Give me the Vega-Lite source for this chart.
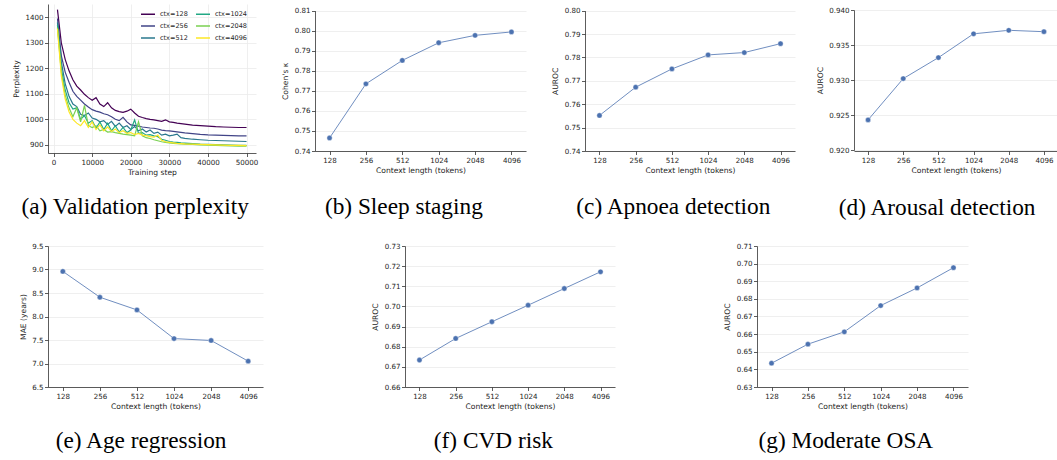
{
"$schema": "https://vega.github.io/schema/vega-lite/v6.json",
"background": "white",
"padding": {"left": 12, "top": 4, "right": 0, "bottom": 0},
"spacing": 23,
"config": {
  "view": {"stroke": null},
  "axis": {"labelFont": "DejaVu Sans", "labelFontSize": 7.1, "labelColor": "#262626", "titleFont": "DejaVu Sans", "titleFontSize": 7.6, "titleFontWeight": "normal", "titleColor": "#262626", "domainColor": "#333333", "domainWidth": 0.8, "tickColor": "#333333", "tickWidth": 0.8, "tickSize": 3.5, "labelPadding": 1.5, "gridColor": "#ebebeb", "gridWidth": 0.8},
  "axisY": {"titlePadding": 4.5},
  "axisX": {"titlePadding": 3.5},
  "title": {"font": "Liberation Serif", "fontSize": 23.3, "fontWeight": "normal", "color": "#000000", "orient": "bottom", "anchor": "middle", "frame": "bounds", "baseline": "top"}
},
"vconcat": [
 {"hconcat": [
  {"width": 208, "height": 149,
   "title": {"text": "(a) Validation perplexity", "offset": 20},
   "data": {"values": [
{"s":1000,"c":"ctx=128","p":1430},{"s":2000,"c":"ctx=128","p":1300},{"s":3000,"c":"ctx=128","p":1235},{"s":4000,"c":"ctx=128","p":1190},{"s":5000,"c":"ctx=128","p":1155},{"s":6000,"c":"ctx=128","p":1130},{"s":7000,"c":"ctx=128","p":1115},{"s":8000,"c":"ctx=128","p":1098},{"s":9000,"c":"ctx=128","p":1085},{"s":10000,"c":"ctx=128","p":1075},{"s":11000,"c":"ctx=128","p":1085},{"s":12000,"c":"ctx=128","p":1060},{"s":13000,"c":"ctx=128","p":1050},{"s":14000,"c":"ctx=128","p":1065},{"s":15000,"c":"ctx=128","p":1045},{"s":16000,"c":"ctx=128","p":1035},{"s":17000,"c":"ctx=128","p":1030},{"s":18000,"c":"ctx=128","p":1027},{"s":19000,"c":"ctx=128","p":1032},{"s":20000,"c":"ctx=128","p":1040},{"s":21000,"c":"ctx=128","p":1025},{"s":22000,"c":"ctx=128","p":1012},{"s":23000,"c":"ctx=128","p":1007},{"s":24000,"c":"ctx=128","p":1003},{"s":25000,"c":"ctx=128","p":1000},{"s":26000,"c":"ctx=128","p":998},{"s":27000,"c":"ctx=128","p":995},{"s":28000,"c":"ctx=128","p":992},{"s":29000,"c":"ctx=128","p":998},{"s":30000,"c":"ctx=128","p":990},{"s":31000,"c":"ctx=128","p":988},{"s":32000,"c":"ctx=128","p":985},{"s":33000,"c":"ctx=128","p":983},{"s":34000,"c":"ctx=128","p":981},{"s":36000,"c":"ctx=128","p":977},{"s":38000,"c":"ctx=128","p":975},{"s":40000,"c":"ctx=128","p":973},{"s":42000,"c":"ctx=128","p":971},{"s":44000,"c":"ctx=128","p":970},{"s":46000,"c":"ctx=128","p":969},{"s":48000,"c":"ctx=128","p":968},{"s":50000,"c":"ctx=128","p":968},
{"s":1000,"c":"ctx=256","p":1395},{"s":2000,"c":"ctx=256","p":1250},{"s":3000,"c":"ctx=256","p":1185},{"s":4000,"c":"ctx=256","p":1145},{"s":5000,"c":"ctx=256","p":1110},{"s":6000,"c":"ctx=256","p":1090},{"s":7000,"c":"ctx=256","p":1075},{"s":8000,"c":"ctx=256","p":1060},{"s":9000,"c":"ctx=256","p":1048},{"s":10000,"c":"ctx=256","p":1038},{"s":11000,"c":"ctx=256","p":1032},{"s":12000,"c":"ctx=256","p":1028},{"s":13000,"c":"ctx=256","p":1022},{"s":14000,"c":"ctx=256","p":1018},{"s":15000,"c":"ctx=256","p":1010},{"s":16000,"c":"ctx=256","p":1000},{"s":17000,"c":"ctx=256","p":995},{"s":18000,"c":"ctx=256","p":1008},{"s":19000,"c":"ctx=256","p":990},{"s":20000,"c":"ctx=256","p":978},{"s":21000,"c":"ctx=256","p":976},{"s":22000,"c":"ctx=256","p":973},{"s":23000,"c":"ctx=256","p":970},{"s":24000,"c":"ctx=256","p":968},{"s":25000,"c":"ctx=256","p":966},{"s":26000,"c":"ctx=256","p":965},{"s":27000,"c":"ctx=256","p":962},{"s":28000,"c":"ctx=256","p":958},{"s":29000,"c":"ctx=256","p":956},{"s":30000,"c":"ctx=256","p":955},{"s":31000,"c":"ctx=256","p":953},{"s":32000,"c":"ctx=256","p":951},{"s":33000,"c":"ctx=256","p":949},{"s":34000,"c":"ctx=256","p":947},{"s":36000,"c":"ctx=256","p":944},{"s":38000,"c":"ctx=256","p":941},{"s":40000,"c":"ctx=256","p":939},{"s":42000,"c":"ctx=256","p":938},{"s":44000,"c":"ctx=256","p":937},{"s":46000,"c":"ctx=256","p":936},{"s":48000,"c":"ctx=256","p":935},{"s":50000,"c":"ctx=256","p":935},
{"s":1000,"c":"ctx=512","p":1380},{"s":2000,"c":"ctx=512","p":1225},{"s":3000,"c":"ctx=512","p":1140},{"s":4000,"c":"ctx=512","p":1090},{"s":5000,"c":"ctx=512","p":1060},{"s":6000,"c":"ctx=512","p":1050},{"s":7000,"c":"ctx=512","p":1020},{"s":8000,"c":"ctx=512","p":1015},{"s":9000,"c":"ctx=512","p":1025},{"s":10000,"c":"ctx=512","p":1005},{"s":11000,"c":"ctx=512","p":1000},{"s":12000,"c":"ctx=512","p":990},{"s":13000,"c":"ctx=512","p":995},{"s":14000,"c":"ctx=512","p":980},{"s":15000,"c":"ctx=512","p":992},{"s":16000,"c":"ctx=512","p":972},{"s":17000,"c":"ctx=512","p":985},{"s":18000,"c":"ctx=512","p":968},{"s":19000,"c":"ctx=512","p":975},{"s":20000,"c":"ctx=512","p":960},{"s":21000,"c":"ctx=512","p":972},{"s":22000,"c":"ctx=512","p":955},{"s":23000,"c":"ctx=512","p":962},{"s":24000,"c":"ctx=512","p":950},{"s":25000,"c":"ctx=512","p":958},{"s":26000,"c":"ctx=512","p":945},{"s":27000,"c":"ctx=512","p":950},{"s":28000,"c":"ctx=512","p":938},{"s":29000,"c":"ctx=512","p":942},{"s":30000,"c":"ctx=512","p":935},{"s":31000,"c":"ctx=512","p":938},{"s":32000,"c":"ctx=512","p":942},{"s":33000,"c":"ctx=512","p":928},{"s":34000,"c":"ctx=512","p":925},{"s":36000,"c":"ctx=512","p":922},{"s":38000,"c":"ctx=512","p":920},{"s":40000,"c":"ctx=512","p":918},{"s":42000,"c":"ctx=512","p":917},{"s":44000,"c":"ctx=512","p":916},{"s":46000,"c":"ctx=512","p":915},{"s":48000,"c":"ctx=512","p":914},{"s":50000,"c":"ctx=512","p":913},
{"s":1000,"c":"ctx=1024","p":1370},{"s":2000,"c":"ctx=1024","p":1200},{"s":3000,"c":"ctx=1024","p":1115},{"s":4000,"c":"ctx=1024","p":1065},{"s":5000,"c":"ctx=1024","p":1040},{"s":6000,"c":"ctx=1024","p":1045},{"s":7000,"c":"ctx=1024","p":1000},{"s":8000,"c":"ctx=1024","p":1015},{"s":9000,"c":"ctx=1024","p":985},{"s":10000,"c":"ctx=1024","p":995},{"s":11000,"c":"ctx=1024","p":965},{"s":12000,"c":"ctx=1024","p":990},{"s":13000,"c":"ctx=1024","p":960},{"s":14000,"c":"ctx=1024","p":985},{"s":15000,"c":"ctx=1024","p":955},{"s":16000,"c":"ctx=1024","p":975},{"s":17000,"c":"ctx=1024","p":950},{"s":18000,"c":"ctx=1024","p":968},{"s":19000,"c":"ctx=1024","p":948},{"s":20000,"c":"ctx=1024","p":958},{"s":21000,"c":"ctx=1024","p":998},{"s":22000,"c":"ctx=1024","p":945},{"s":23000,"c":"ctx=1024","p":948},{"s":24000,"c":"ctx=1024","p":938},{"s":25000,"c":"ctx=1024","p":940},{"s":26000,"c":"ctx=1024","p":935},{"s":27000,"c":"ctx=1024","p":932},{"s":28000,"c":"ctx=1024","p":922},{"s":29000,"c":"ctx=1024","p":918},{"s":30000,"c":"ctx=1024","p":913},{"s":31000,"c":"ctx=1024","p":911},{"s":32000,"c":"ctx=1024","p":910},{"s":33000,"c":"ctx=1024","p":908},{"s":34000,"c":"ctx=1024","p":907},{"s":36000,"c":"ctx=1024","p":905},{"s":38000,"c":"ctx=1024","p":903},{"s":40000,"c":"ctx=1024","p":902},{"s":42000,"c":"ctx=1024","p":901},{"s":44000,"c":"ctx=1024","p":900},{"s":46000,"c":"ctx=1024","p":899},{"s":48000,"c":"ctx=1024","p":898},{"s":50000,"c":"ctx=1024","p":898},
{"s":1000,"c":"ctx=2048","p":1360},{"s":2000,"c":"ctx=2048","p":1185},{"s":3000,"c":"ctx=2048","p":1095},{"s":4000,"c":"ctx=2048","p":1045},{"s":5000,"c":"ctx=2048","p":1010},{"s":6000,"c":"ctx=2048","p":1045},{"s":7000,"c":"ctx=2048","p":990},{"s":8000,"c":"ctx=2048","p":1055},{"s":9000,"c":"ctx=2048","p":975},{"s":10000,"c":"ctx=2048","p":968},{"s":11000,"c":"ctx=2048","p":975},{"s":12000,"c":"ctx=2048","p":955},{"s":13000,"c":"ctx=2048","p":960},{"s":14000,"c":"ctx=2048","p":950},{"s":15000,"c":"ctx=2048","p":952},{"s":16000,"c":"ctx=2048","p":948},{"s":17000,"c":"ctx=2048","p":945},{"s":18000,"c":"ctx=2048","p":942},{"s":19000,"c":"ctx=2048","p":940},{"s":20000,"c":"ctx=2048","p":938},{"s":21000,"c":"ctx=2048","p":935},{"s":22000,"c":"ctx=2048","p":990},{"s":23000,"c":"ctx=2048","p":935},{"s":24000,"c":"ctx=2048","p":928},{"s":25000,"c":"ctx=2048","p":925},{"s":26000,"c":"ctx=2048","p":920},{"s":27000,"c":"ctx=2048","p":916},{"s":28000,"c":"ctx=2048","p":912},{"s":29000,"c":"ctx=2048","p":910},{"s":30000,"c":"ctx=2048","p":908},{"s":31000,"c":"ctx=2048","p":906},{"s":32000,"c":"ctx=2048","p":905},{"s":33000,"c":"ctx=2048","p":904},{"s":34000,"c":"ctx=2048","p":903},{"s":36000,"c":"ctx=2048","p":902},{"s":38000,"c":"ctx=2048","p":900},{"s":40000,"c":"ctx=2048","p":899},{"s":42000,"c":"ctx=2048","p":898},{"s":44000,"c":"ctx=2048","p":897},{"s":46000,"c":"ctx=2048","p":896},{"s":48000,"c":"ctx=2048","p":895},{"s":50000,"c":"ctx=2048","p":895},
{"s":1000,"c":"ctx=4096","p":1355},{"s":2000,"c":"ctx=4096","p":1170},{"s":3000,"c":"ctx=4096","p":1080},{"s":4000,"c":"ctx=4096","p":1030},{"s":5000,"c":"ctx=4096","p":1000},{"s":6000,"c":"ctx=4096","p":985},{"s":7000,"c":"ctx=4096","p":975},{"s":8000,"c":"ctx=4096","p":995},{"s":9000,"c":"ctx=4096","p":968},{"s":10000,"c":"ctx=4096","p":990},{"s":11000,"c":"ctx=4096","p":960},{"s":12000,"c":"ctx=4096","p":978},{"s":13000,"c":"ctx=4096","p":955},{"s":14000,"c":"ctx=4096","p":970},{"s":15000,"c":"ctx=4096","p":952},{"s":16000,"c":"ctx=4096","p":962},{"s":17000,"c":"ctx=4096","p":948},{"s":18000,"c":"ctx=4096","p":955},{"s":19000,"c":"ctx=4096","p":945},{"s":20000,"c":"ctx=4096","p":948},{"s":21000,"c":"ctx=4096","p":940},{"s":22000,"c":"ctx=4096","p":945},{"s":23000,"c":"ctx=4096","p":938},{"s":24000,"c":"ctx=4096","p":936},{"s":25000,"c":"ctx=4096","p":932},{"s":26000,"c":"ctx=4096","p":930},{"s":27000,"c":"ctx=4096","p":938},{"s":28000,"c":"ctx=4096","p":918},{"s":29000,"c":"ctx=4096","p":912},{"s":30000,"c":"ctx=4096","p":910},{"s":31000,"c":"ctx=4096","p":908},{"s":32000,"c":"ctx=4096","p":906},{"s":33000,"c":"ctx=4096","p":905},{"s":34000,"c":"ctx=4096","p":904},{"s":36000,"c":"ctx=4096","p":903},{"s":38000,"c":"ctx=4096","p":902},{"s":40000,"c":"ctx=4096","p":901},{"s":42000,"c":"ctx=4096","p":900},{"s":44000,"c":"ctx=4096","p":899},{"s":46000,"c":"ctx=4096","p":898},{"s":48000,"c":"ctx=4096","p":898},{"s":50000,"c":"ctx=4096","p":897}
   ]},
   "mark": {"type": "line", "strokeWidth": 1.2},
   "encoding": {
     "x": {"field": "s", "type": "quantitative", "scale": {"domain": [-1450, 52450], "nice": false, "zero": false}, "axis": {"title": "Training step", "values": [0,10000,20000,30000,40000,50000], "format": "d", "grid": true}},
     "y": {"field": "p", "type": "quantitative", "scale": {"domain": [868, 1452], "nice": false, "zero": false}, "axis": {"title": "Perplexity", "values": [900,1000,1100,1200,1300,1400], "format": "d", "grid": true}},
     "color": {"field": "c", "type": "nominal",
       "scale": {"domain": ["ctx=128","ctx=256","ctx=512","ctx=1024","ctx=2048","ctx=4096"], "range": ["#440154","#414487","#2a788e","#22a884","#7ad151","#fde725"]},
       "legend": {"title": null, "orient": "none", "legendX": 92, "legendY": 2, "columns": 2, "columnPadding": 5, "rowPadding": -2.5, "labelFont": "DejaVu Sans", "labelFontSize": 6.5, "labelColor": "#262626", "symbolType": "stroke", "symbolSize": 196, "symbolStrokeWidth": 1.5, "labelOffset": 4}}
   }
  },
  {"width": 211, "height": 147,
   "title": {"text": "(b) Sleep staging", "offset": 21.5},
   "data": {"values": [{"ctx":"128","v":0.7465},{"ctx":"256","v":0.7735},{"ctx":"512","v":0.7852},{"ctx":"1024","v":0.7940},{"ctx":"2048","v":0.7977},{"ctx":"4096","v":0.7994}]},
   "encoding": {
     "x": {"field": "ctx", "type": "ordinal", "sort": ["128","256","512","1024","2048","4096"], "scale": {"type": "point", "padding": 0.4}, "axis": {"title": "Context length (tokens)", "labelAngle": 0, "grid": false}},
     "y": {"field": "v", "type": "quantitative", "scale": {"domain": [0.74, 0.81], "nice": false, "zero": false, "range": [147, 6.7]}, "axis": {"title": "Cohen's κ", "values": [0.74,0.75,0.76,0.77,0.78,0.79,0.80,0.81], "format": ".2f", "grid": true}}
   },
   "layer": [
     {"mark": {"type": "line", "color": "#4C72B0", "strokeWidth": 1, "opacity": 0.8}},
     {"mark": {"type": "circle", "color": "#4C72B0", "size": 28, "opacity": 1, "stroke": "white", "strokeWidth": 0.4}}
   ]
  },
  {"width": 210, "height": 147,
   "title": {"text": "(c) Apnoea detection", "offset": 21.5},
   "data": {"values": [{"ctx":"128","v":0.7552},{"ctx":"256","v":0.7673},{"ctx":"512","v":0.7751},{"ctx":"1024","v":0.7811},{"ctx":"2048","v":0.7821},{"ctx":"4096","v":0.7859}]},
   "encoding": {
     "x": {"field": "ctx", "type": "ordinal", "sort": ["128","256","512","1024","2048","4096"], "scale": {"type": "point", "padding": 0.4}, "axis": {"title": "Context length (tokens)", "labelAngle": 0, "grid": false}},
     "y": {"field": "v", "type": "quantitative", "scale": {"domain": [0.74, 0.80], "nice": false, "zero": false, "range": [147, 6.7]}, "axis": {"title": "AUROC", "values": [0.74,0.75,0.76,0.77,0.78,0.79,0.80], "format": ".2f", "grid": true}}
   },
   "layer": [
     {"mark": {"type": "line", "color": "#4C72B0", "strokeWidth": 1, "opacity": 0.8}},
     {"mark": {"type": "circle", "color": "#4C72B0", "size": 28, "opacity": 1, "stroke": "white", "strokeWidth": 0.4}}
   ]
  },
  {"width": 204, "height": 147,
   "title": {"text": "(d) Arousal detection", "offset": 22.5},
   "data": {"values": [{"ctx":"128","v":0.9243},{"ctx":"256","v":0.9302},{"ctx":"512","v":0.9332},{"ctx":"1024","v":0.9366},{"ctx":"2048","v":0.9371},{"ctx":"4096","v":0.9369}]},
   "encoding": {
     "x": {"field": "ctx", "type": "ordinal", "sort": ["128","256","512","1024","2048","4096"], "scale": {"type": "point", "padding": 0.4}, "axis": {"title": "Context length (tokens)", "labelAngle": 0, "grid": false}},
     "y": {"field": "v", "type": "quantitative", "scale": {"domain": [0.92, 0.94], "nice": false, "zero": false, "range": [146, 6]}, "axis": {"title": "AUROC", "values": [0.92,0.925,0.93,0.935,0.94], "format": ".3f", "grid": true}}
   },
   "layer": [
     {"mark": {"type": "line", "color": "#4C72B0", "strokeWidth": 1, "opacity": 0.8}},
     {"mark": {"type": "circle", "color": "#4C72B0", "size": 28, "opacity": 1, "stroke": "white", "strokeWidth": 0.4}}
   ]
  }
 ], "spacing": 59, "bounds": "flush"},
 {"hconcat": [
  {"width": 215, "height": 141,
   "title": {"text": "(e) Age regression", "offset": 20},
   "data": {"values": [{"ctx":"128","v":8.96},{"ctx":"256","v":8.41},{"ctx":"512","v":8.14},{"ctx":"1024","v":7.53},{"ctx":"2048","v":7.49},{"ctx":"4096","v":7.05}]},
   "encoding": {
     "x": {"field": "ctx", "type": "ordinal", "sort": ["128","256","512","1024","2048","4096"], "scale": {"type": "point", "padding": 0.4}, "axis": {"title": "Context length (tokens)", "labelAngle": 0, "grid": false}},
     "y": {"field": "v", "type": "quantitative", "scale": {"domain": [6.5, 9.5], "nice": false, "zero": false}, "axis": {"title": "MAE (years)", "values": [6.5,7.0,7.5,8.0,8.5,9.0,9.5], "format": ".1f", "grid": true}}
   },
   "layer": [
     {"mark": {"type": "line", "color": "#4C72B0", "strokeWidth": 1, "opacity": 0.8}},
     {"mark": {"type": "circle", "color": "#4C72B0", "size": 28, "opacity": 1, "stroke": "white", "strokeWidth": 0.4}}
   ]
  },
  {"width": 210, "height": 141,
   "title": {"text": "(f) CVD risk", "offset": 20},
   "data": {"values": [{"ctx":"128","v":0.6734},{"ctx":"256","v":0.6841},{"ctx":"512","v":0.6924},{"ctx":"1024","v":0.7006},{"ctx":"2048","v":0.7089},{"ctx":"4096","v":0.7172}]},
   "encoding": {
     "x": {"field": "ctx", "type": "ordinal", "sort": ["128","256","512","1024","2048","4096"], "scale": {"type": "point", "padding": 0.4}, "axis": {"title": "Context length (tokens)", "labelAngle": 0, "grid": false}},
     "y": {"field": "v", "type": "quantitative", "scale": {"domain": [0.66, 0.73], "nice": false, "zero": false}, "axis": {"title": "AUROC", "values": [0.66,0.67,0.68,0.69,0.70,0.71,0.72,0.73], "format": ".2f", "grid": true}}
   },
   "layer": [
     {"mark": {"type": "line", "color": "#4C72B0", "strokeWidth": 1, "opacity": 0.8}},
     {"mark": {"type": "circle", "color": "#4C72B0", "size": 28, "opacity": 1, "stroke": "white", "strokeWidth": 0.4}}
   ]
  },
  {"width": 211, "height": 141,
   "title": {"text": "(g) Moderate OSA", "offset": 20},
   "data": {"values": [{"ctx":"128","v":0.6435},{"ctx":"256","v":0.6543},{"ctx":"512","v":0.6613},{"ctx":"1024","v":0.6762},{"ctx":"2048","v":0.6862},{"ctx":"4096","v":0.6977}]},
   "encoding": {
     "x": {"field": "ctx", "type": "ordinal", "sort": ["128","256","512","1024","2048","4096"], "scale": {"type": "point", "padding": 0.4}, "axis": {"title": "Context length (tokens)", "labelAngle": 0, "grid": false}},
     "y": {"field": "v", "type": "quantitative", "scale": {"domain": [0.63, 0.71], "nice": false, "zero": false}, "axis": {"title": "AUROC", "values": [0.63,0.64,0.65,0.66,0.67,0.68,0.69,0.70,0.71], "format": ".2f", "grid": true}}
   },
   "layer": [
     {"mark": {"type": "line", "color": "#4C72B0", "strokeWidth": 1, "opacity": 0.8}},
     {"mark": {"type": "circle", "color": "#4C72B0", "size": 28, "opacity": 1, "stroke": "white", "strokeWidth": 0.4}}
   ]
  }
 ], "spacing": 142, "bounds": "flush"}
]
}
